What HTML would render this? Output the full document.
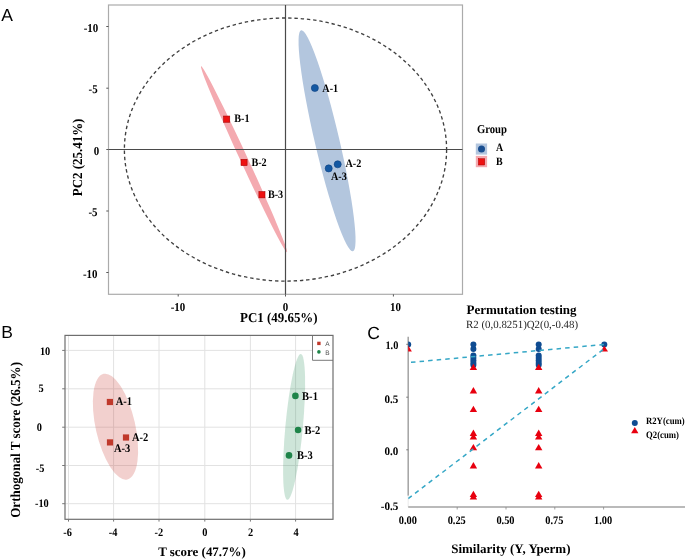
<!DOCTYPE html>
<html><head><meta charset="utf-8"><style>
html,body{margin:0;padding:0;background:#fff;width:685px;height:560px;overflow:hidden}
svg{display:block}
text{text-rendering:geometricPrecision}
svg{will-change:transform}
</style></head><body>
<svg width="685" height="560" viewBox="0 0 685 560">
<rect width="685" height="560" fill="#fff"/>
<text x="1.3" y="20.6" font-family='"Liberation Sans", sans-serif' font-size="17.5" font-weight="normal" text-anchor="start" fill="#000" >A</text>
<ellipse cx="244.04" cy="159.26" rx="3.74" ry="102.44" transform="rotate(-24.79 244.04 159.26)" fill="#f4aab0"/>
<ellipse cx="327.05" cy="140.75" rx="12.27" ry="113.54" transform="rotate(-13.175 327.05 140.75)" fill="#b3c6de"/>
<rect x="108.5" y="5" width="354" height="289.3" fill="none" stroke="#ababab" stroke-width="1.2"/>
<line x1="285.5" y1="5" x2="285.5" y2="294.3" stroke="#4a4a4a" stroke-width="1.2"/>
<line x1="108.5" y1="149.5" x2="462.5" y2="149.5" stroke="#4a4a4a" stroke-width="1.2"/>
<ellipse cx="285.5" cy="149.55" rx="161.1" ry="131.55" fill="none" stroke="#404040" stroke-width="1.35" stroke-dasharray="3.4 2.85"/>
<line x1="106.3" y1="26.5" x2="108.5" y2="26.5" stroke="#555" stroke-width="1"/>
<line x1="106.3" y1="88.2" x2="108.5" y2="88.2" stroke="#555" stroke-width="1"/>
<line x1="106.3" y1="149.5" x2="108.5" y2="149.5" stroke="#555" stroke-width="1"/>
<line x1="106.3" y1="211" x2="108.5" y2="211" stroke="#555" stroke-width="1"/>
<line x1="106.3" y1="272.5" x2="108.5" y2="272.5" stroke="#555" stroke-width="1"/>
<line x1="178.2" y1="294.3" x2="178.2" y2="296.5" stroke="#555" stroke-width="1"/>
<line x1="285.5" y1="294.3" x2="285.5" y2="296.5" stroke="#555" stroke-width="1"/>
<line x1="393.4" y1="294.3" x2="393.4" y2="296.5" stroke="#555" stroke-width="1"/>
<text x="98.2" y="31.9" font-family='"Liberation Serif", serif' font-size="12.0" font-weight="bold" text-anchor="end" fill="#000" textLength="14.56" lengthAdjust="spacingAndGlyphs" >-10</text>
<text x="97.6" y="93.1" font-family='"Liberation Serif", serif' font-size="12.0" font-weight="bold" text-anchor="end" fill="#000" textLength="9.1" lengthAdjust="spacingAndGlyphs" >-5</text>
<text x="99.3" y="155.2" font-family='"Liberation Serif", serif' font-size="12.0" font-weight="bold" text-anchor="end" fill="#000" textLength="5.46" lengthAdjust="spacingAndGlyphs" >0</text>
<text x="97.5" y="215.8" font-family='"Liberation Serif", serif' font-size="12.0" font-weight="bold" text-anchor="end" fill="#000" textLength="9.1" lengthAdjust="spacingAndGlyphs" >-5</text>
<text x="97.5" y="277.9" font-family='"Liberation Serif", serif' font-size="12.0" font-weight="bold" text-anchor="end" fill="#000" textLength="14.56" lengthAdjust="spacingAndGlyphs" >-10</text>
<text x="178" y="311.0" font-family='"Liberation Serif", serif' font-size="12.0" font-weight="bold" text-anchor="middle" fill="#000" textLength="14.56" lengthAdjust="spacingAndGlyphs" >-10</text>
<text x="285.5" y="311.0" font-family='"Liberation Serif", serif' font-size="12.0" font-weight="bold" text-anchor="middle" fill="#000" textLength="5.46" lengthAdjust="spacingAndGlyphs" >0</text>
<text x="395.5" y="311.0" font-family='"Liberation Serif", serif' font-size="12.0" font-weight="bold" text-anchor="middle" fill="#000" textLength="10.92" lengthAdjust="spacingAndGlyphs" >10</text>
<text x="240" y="321.8" font-family='"Liberation Serif", serif' font-size="13.6" font-weight="bold" text-anchor="start" fill="#000" textLength="77.6" lengthAdjust="spacingAndGlyphs" >PC1 (49.65%)</text>
<text transform="translate(82.3 196.2) rotate(-90)" font-family='"Liberation Serif", serif' font-size="13.8" font-weight="bold" textLength="77.6" lengthAdjust="spacingAndGlyphs">PC2 (25.41%)</text>
<rect x="223.65" y="116.05" width="6.1" height="6.2" fill="#ee1111" stroke="#a80000" stroke-width="0.6"/>
<rect x="241.00" y="159.35" width="6.1" height="6.2" fill="#ee1111" stroke="#a80000" stroke-width="0.6"/>
<rect x="258.90" y="191.65" width="6.1" height="6.2" fill="#ee1111" stroke="#a80000" stroke-width="0.6"/>
<circle cx="314.85" cy="88" r="3.55" fill="#1458a2" stroke="#0d3f80" stroke-width="0.6"/>
<circle cx="337.7" cy="164.3" r="3.55" fill="#1458a2" stroke="#0d3f80" stroke-width="0.6"/>
<circle cx="328.7" cy="168.4" r="3.55" fill="#1458a2" stroke="#0d3f80" stroke-width="0.6"/>
<text x="234.3" y="121.6" font-family='"Liberation Serif", serif' font-size="11.4" font-weight="bold" text-anchor="start" fill="#000" textLength="15.31" lengthAdjust="spacingAndGlyphs" >B-1</text>
<text x="251.4" y="165.5" font-family='"Liberation Serif", serif' font-size="11.4" font-weight="bold" text-anchor="start" fill="#000" textLength="15.31" lengthAdjust="spacingAndGlyphs" >B-2</text>
<text x="267.9" y="197.9" font-family='"Liberation Serif", serif' font-size="11.4" font-weight="bold" text-anchor="start" fill="#000" textLength="15.31" lengthAdjust="spacingAndGlyphs" >B-3</text>
<text x="322.3" y="91.9" font-family='"Liberation Serif", serif' font-size="11.4" font-weight="bold" text-anchor="start" fill="#000" textLength="15.87" lengthAdjust="spacingAndGlyphs" >A-1</text>
<text x="345.5" y="167" font-family='"Liberation Serif", serif' font-size="11.4" font-weight="bold" text-anchor="start" fill="#000" textLength="15.87" lengthAdjust="spacingAndGlyphs" >A-2</text>
<text x="331" y="179.5" font-family='"Liberation Serif", serif' font-size="11.4" font-weight="bold" text-anchor="start" fill="#000" textLength="15.87" lengthAdjust="spacingAndGlyphs" >A-3</text>
<text x="476.9" y="132.5" font-family='"Liberation Serif", serif' font-size="12.0" font-weight="bold" text-anchor="start" fill="#000" textLength="30.07" lengthAdjust="spacingAndGlyphs" >Group</text>
<rect x="475.8" y="143.5" width="11.3" height="11.1" fill="#b3c6de"/>
<circle cx="481.5" cy="149" r="3.5" fill="#1a4f91"/>
<rect x="475.8" y="155.9" width="11.3" height="11.3" fill="#f4aab0"/>
<rect x="478.4" y="158.7" width="6.3" height="6.3" fill="#ee1111" stroke="#a80000" stroke-width="0.5"/>
<text x="496" y="151.2" font-family='"Liberation Serif", serif' font-size="11.2" font-weight="bold" text-anchor="start" fill="#000" textLength="7.2" lengthAdjust="spacingAndGlyphs" >A</text>
<text x="496" y="165.2" font-family='"Liberation Serif", serif' font-size="11.2" font-weight="bold" text-anchor="start" fill="#000" textLength="6.65" lengthAdjust="spacingAndGlyphs" >B</text>
<text x="1.3" y="338" font-family='"Liberation Sans", sans-serif' font-size="17.5" font-weight="normal" text-anchor="start" fill="#000" >B</text>
<line x1="68.5" y1="335.4" x2="68.5" y2="519.1" stroke="#e2e2e2" stroke-width="1"/>
<line x1="113.6" y1="335.4" x2="113.6" y2="519.1" stroke="#e2e2e2" stroke-width="1"/>
<line x1="159" y1="335.4" x2="159" y2="519.1" stroke="#e2e2e2" stroke-width="1"/>
<line x1="204.8" y1="335.4" x2="204.8" y2="519.1" stroke="#e2e2e2" stroke-width="1"/>
<line x1="250.4" y1="335.4" x2="250.4" y2="519.1" stroke="#e2e2e2" stroke-width="1"/>
<line x1="295.6" y1="335.4" x2="295.6" y2="519.1" stroke="#e2e2e2" stroke-width="1"/>
<line x1="65" y1="350.4" x2="333" y2="350.4" stroke="#e2e2e2" stroke-width="1"/>
<line x1="65" y1="388.8" x2="333" y2="388.8" stroke="#e2e2e2" stroke-width="1"/>
<line x1="65" y1="427.2" x2="333" y2="427.2" stroke="#e2e2e2" stroke-width="1"/>
<line x1="65" y1="465.5" x2="333" y2="465.5" stroke="#e2e2e2" stroke-width="1"/>
<line x1="65" y1="503.7" x2="333" y2="503.7" stroke="#e2e2e2" stroke-width="1"/>
<ellipse cx="115.48" cy="426.66" rx="19.76" ry="54.13" transform="rotate(-12.62 115.48 426.66)" fill="rgb(200,60,50)" fill-opacity="0.24"/>
<ellipse cx="294.11" cy="426.92" rx="8.75" ry="73.15" transform="rotate(5.29 294.11 426.92)" fill="rgb(30,138,80)" fill-opacity="0.22"/>
<rect x="312.5" y="335.4" width="20.5" height="24.9" fill="#fff"/>
<path d="M312.5 335.4 V360.3 H333" fill="none" stroke="#7a7a7a" stroke-width="1"/>
<rect x="65" y="335.4" width="268" height="183.9" fill="none" stroke="#6e6e6e" stroke-width="1.2"/>
<rect x="317.2" y="341.7" width="3.4" height="3.4" fill="#c0392b"/>
<circle cx="318.9" cy="351.9" r="1.8" fill="#1e8449"/>
<text x="325.3" y="346.1" font-family='"Liberation Sans", sans-serif' font-size="6.5" font-weight="normal" text-anchor="start" fill="#555" >A</text>
<text x="325.3" y="354.8" font-family='"Liberation Sans", sans-serif' font-size="6.5" font-weight="normal" text-anchor="start" fill="#555" >B</text>
<line x1="62.2" y1="350.4" x2="65" y2="350.4" stroke="#777" stroke-width="1"/>
<line x1="62.2" y1="388.8" x2="65" y2="388.8" stroke="#777" stroke-width="1"/>
<line x1="62.2" y1="427.2" x2="65" y2="427.2" stroke="#777" stroke-width="1"/>
<line x1="62.2" y1="465.5" x2="65" y2="465.5" stroke="#777" stroke-width="1"/>
<line x1="62.2" y1="503.7" x2="65" y2="503.7" stroke="#777" stroke-width="1"/>
<line x1="68.5" y1="519.3" x2="68.5" y2="521.6" stroke="#777" stroke-width="1"/>
<line x1="113.6" y1="519.3" x2="113.6" y2="521.6" stroke="#777" stroke-width="1"/>
<line x1="159" y1="519.3" x2="159" y2="521.6" stroke="#777" stroke-width="1"/>
<line x1="204.8" y1="519.3" x2="204.8" y2="521.6" stroke="#777" stroke-width="1"/>
<line x1="250.4" y1="519.3" x2="250.4" y2="521.6" stroke="#777" stroke-width="1"/>
<line x1="295.6" y1="519.3" x2="295.6" y2="521.6" stroke="#777" stroke-width="1"/>
<text x="39.9" y="354.5" font-family='"Liberation Serif", serif' font-size="11.5" font-weight="bold" text-anchor="start" fill="#000" textLength="10.35" lengthAdjust="spacingAndGlyphs" >10</text>
<text x="38.6" y="392" font-family='"Liberation Serif", serif' font-size="11.5" font-weight="bold" text-anchor="start" fill="#000" textLength="5.17" lengthAdjust="spacingAndGlyphs" >5</text>
<text x="36.8" y="431.3" font-family='"Liberation Serif", serif' font-size="11.5" font-weight="bold" text-anchor="start" fill="#000" textLength="5.17" lengthAdjust="spacingAndGlyphs" >0</text>
<text x="35.7" y="472" font-family='"Liberation Serif", serif' font-size="11.5" font-weight="bold" text-anchor="start" fill="#000" textLength="8.62" lengthAdjust="spacingAndGlyphs" >-5</text>
<text x="35" y="507.4" font-family='"Liberation Serif", serif' font-size="11.5" font-weight="bold" text-anchor="start" fill="#000" textLength="13.8" lengthAdjust="spacingAndGlyphs" >-10</text>
<text x="67.5" y="536.4" font-family='"Liberation Serif", serif' font-size="11.5" font-weight="bold" text-anchor="middle" fill="#000" textLength="8.62" lengthAdjust="spacingAndGlyphs" >-6</text>
<text x="113" y="536.4" font-family='"Liberation Serif", serif' font-size="11.5" font-weight="bold" text-anchor="middle" fill="#000" textLength="8.62" lengthAdjust="spacingAndGlyphs" >-4</text>
<text x="158.9" y="536.4" font-family='"Liberation Serif", serif' font-size="11.5" font-weight="bold" text-anchor="middle" fill="#000" textLength="8.62" lengthAdjust="spacingAndGlyphs" >-2</text>
<text x="204.9" y="536.4" font-family='"Liberation Serif", serif' font-size="11.5" font-weight="bold" text-anchor="middle" fill="#000" textLength="5.17" lengthAdjust="spacingAndGlyphs" >0</text>
<text x="250.5" y="536.4" font-family='"Liberation Serif", serif' font-size="11.5" font-weight="bold" text-anchor="middle" fill="#000" textLength="5.17" lengthAdjust="spacingAndGlyphs" >2</text>
<text x="296" y="536.4" font-family='"Liberation Serif", serif' font-size="11.5" font-weight="bold" text-anchor="middle" fill="#000" textLength="5.17" lengthAdjust="spacingAndGlyphs" >4</text>
<text x="158.2" y="556" font-family='"Liberation Serif", serif' font-size="13" font-weight="bold" text-anchor="start" fill="#000" textLength="87.6" lengthAdjust="spacingAndGlyphs" >T score (47.7%)</text>
<text transform="translate(20.2 517.8) rotate(-90)" font-family='"Liberation Serif", serif' font-size="13.8" font-weight="bold" textLength="155.8" lengthAdjust="spacingAndGlyphs">Orthogonal T score (26.5%)</text>
<rect x="106.80000000000001" y="398.9" width="6.2" height="6.2" fill="#c0392b"/>
<rect x="122.9" y="434.4" width="6.2" height="6.2" fill="#c0392b"/>
<rect x="106.9" y="439.29999999999995" width="6.2" height="6.2" fill="#c0392b"/>
<circle cx="295.4" cy="395.9" r="3.3" fill="#1e8449"/>
<circle cx="298.1" cy="430" r="3.3" fill="#1e8449"/>
<circle cx="289" cy="455.4" r="3.3" fill="#1e8449"/>
<text x="115.7" y="405.4" font-family='"Liberation Serif", serif' font-size="11.7" font-weight="bold" text-anchor="start" fill="#000" textLength="16.38" lengthAdjust="spacingAndGlyphs" >A-1</text>
<text x="131.9" y="440.8" font-family='"Liberation Serif", serif' font-size="11.7" font-weight="bold" text-anchor="start" fill="#000" textLength="16.38" lengthAdjust="spacingAndGlyphs" >A-2</text>
<text x="113.9" y="451.5" font-family='"Liberation Serif", serif' font-size="11.7" font-weight="bold" text-anchor="start" fill="#000" textLength="16.38" lengthAdjust="spacingAndGlyphs" >A-3</text>
<text x="302.1" y="399.6" font-family='"Liberation Serif", serif' font-size="11.7" font-weight="bold" text-anchor="start" fill="#000" textLength="15.8" lengthAdjust="spacingAndGlyphs" >B-1</text>
<text x="304.5" y="434.3" font-family='"Liberation Serif", serif' font-size="11.7" font-weight="bold" text-anchor="start" fill="#000" textLength="15.8" lengthAdjust="spacingAndGlyphs" >B-2</text>
<text x="296.9" y="459.4" font-family='"Liberation Serif", serif' font-size="11.7" font-weight="bold" text-anchor="start" fill="#000" textLength="15.8" lengthAdjust="spacingAndGlyphs" >B-3</text>
<text x="367.2" y="338.5" font-family='"Liberation Sans", sans-serif' font-size="17.5" font-weight="normal" text-anchor="start" fill="#000" >C</text>
<text x="466.5" y="313.9" font-family='"Liberation Serif", serif' font-size="13" font-weight="bold" text-anchor="start" fill="#000" textLength="110" lengthAdjust="spacingAndGlyphs" >Permutation testing</text>
<text x="466.1" y="327.6" font-family='"Liberation Serif", serif' font-size="11" font-weight="normal" text-anchor="start" fill="#262626" textLength="112" lengthAdjust="spacingAndGlyphs" >R2 (0,0.8251)Q2(0,-0.48)</text>
<line x1="408.2" y1="336.7" x2="408.2" y2="495.7" stroke="#a3a3a3" stroke-width="1.5"/>
<line x1="408.2" y1="495.7" x2="408.2" y2="507" stroke="#eee" stroke-width="1.2"/>
<line x1="408.2" y1="507" x2="685" y2="507" stroke="#a3a3a3" stroke-width="1.4"/>
<line x1="406.2" y1="344.3" x2="408.2" y2="344.3" stroke="#666" stroke-width="0.8"/>
<line x1="406.2" y1="397.2" x2="408.2" y2="397.2" stroke="#666" stroke-width="0.8"/>
<line x1="406.2" y1="449.8" x2="408.2" y2="449.8" stroke="#666" stroke-width="0.8"/>
<line x1="457.2" y1="507" x2="457.2" y2="509.5" stroke="#888" stroke-width="0.8"/>
<line x1="506.0" y1="507" x2="506.0" y2="509.5" stroke="#888" stroke-width="0.8"/>
<line x1="554.8" y1="507" x2="554.8" y2="509.5" stroke="#888" stroke-width="0.8"/>
<line x1="603.6" y1="507" x2="603.6" y2="509.5" stroke="#888" stroke-width="0.8"/>
<text x="398.3" y="349.2" font-family='"Liberation Serif", serif' font-size="11.5" font-weight="bold" text-anchor="end" fill="#000" textLength="12.9" lengthAdjust="spacingAndGlyphs" >1.0</text>
<text x="398.3" y="402.9" font-family='"Liberation Serif", serif' font-size="11.5" font-weight="bold" text-anchor="end" fill="#000" textLength="13.8" lengthAdjust="spacingAndGlyphs" >0.5</text>
<text x="398.3" y="455" font-family='"Liberation Serif", serif' font-size="11.5" font-weight="bold" text-anchor="end" fill="#000" textLength="13.8" lengthAdjust="spacingAndGlyphs" >0.0</text>
<text x="398.3" y="510.4" font-family='"Liberation Serif", serif' font-size="11.5" font-weight="bold" text-anchor="end" fill="#000" textLength="17.6" lengthAdjust="spacingAndGlyphs" >-0.5</text>
<text x="407.9" y="523.9" font-family='"Liberation Serif", serif' font-size="11.5" font-weight="bold" text-anchor="middle" fill="#000" textLength="18.11" lengthAdjust="spacingAndGlyphs" >0.00</text>
<text x="456.7" y="523.9" font-family='"Liberation Serif", serif' font-size="11.5" font-weight="bold" text-anchor="middle" fill="#000" textLength="18.11" lengthAdjust="spacingAndGlyphs" >0.25</text>
<text x="505.5" y="523.9" font-family='"Liberation Serif", serif' font-size="11.5" font-weight="bold" text-anchor="middle" fill="#000" textLength="18.11" lengthAdjust="spacingAndGlyphs" >0.50</text>
<text x="554.3" y="523.9" font-family='"Liberation Serif", serif' font-size="11.5" font-weight="bold" text-anchor="middle" fill="#000" textLength="18.11" lengthAdjust="spacingAndGlyphs" >0.75</text>
<text x="603.1" y="523.9" font-family='"Liberation Serif", serif' font-size="11.5" font-weight="bold" text-anchor="middle" fill="#000" textLength="18.11" lengthAdjust="spacingAndGlyphs" >1.00</text>
<text x="451.2" y="552.5" font-family='"Liberation Serif", serif' font-size="13" font-weight="bold" text-anchor="start" fill="#000" textLength="119.3" lengthAdjust="spacingAndGlyphs" >Similarity (Y, Yperm)</text>
<clipPath id="cc"><rect x="408.2" y="330" width="280" height="180"/></clipPath>
<g clip-path="url(#cc)"><circle cx="408.2" cy="344.4" r="3.0" fill="#0f4c92"/><polygon points="408.2,345.5 404.5,351.6 411.9,351.6" fill="#e8000f"/><circle cx="473.4" cy="344.4" r="3.0" fill="#0f4c92"/><circle cx="473.4" cy="349.0" r="3.0" fill="#0f4c92"/><circle cx="473.4" cy="355.5" r="3.0" fill="#0f4c92"/><circle cx="473.4" cy="358.0" r="3.0" fill="#0f4c92"/><circle cx="473.4" cy="360.5" r="3.0" fill="#0f4c92"/><circle cx="473.4" cy="363.0" r="3.0" fill="#0f4c92"/><circle cx="473.4" cy="365.0" r="3.0" fill="#0f4c92"/><polygon points="473.4,363.8 469.7,370.1 477.1,370.1" fill="#e8000f"/><polygon points="473.4,387.1 469.7,393.4 477.1,393.4" fill="#e8000f"/><polygon points="473.4,405.7 469.7,412.0 477.1,412.0" fill="#e8000f"/><polygon points="473.4,429.6 469.7,435.9 477.1,435.9" fill="#e8000f"/><polygon points="473.4,433.3 469.7,439.6 477.1,439.6" fill="#e8000f"/><polygon points="473.4,444.0 469.7,450.3 477.1,450.3" fill="#e8000f"/><polygon points="473.4,462.1 469.7,468.4 477.1,468.4" fill="#e8000f"/><polygon points="473.4,490.7 469.7,497.0 477.1,497.0" fill="#e8000f"/><polygon points="473.4,493.3 469.7,499.6 477.1,499.6" fill="#e8000f"/><circle cx="538.7" cy="344.4" r="3.0" fill="#0f4c92"/><circle cx="538.7" cy="349.0" r="3.0" fill="#0f4c92"/><circle cx="538.7" cy="355.5" r="3.0" fill="#0f4c92"/><circle cx="538.7" cy="358.0" r="3.0" fill="#0f4c92"/><circle cx="538.7" cy="360.5" r="3.0" fill="#0f4c92"/><circle cx="538.7" cy="363.0" r="3.0" fill="#0f4c92"/><circle cx="538.7" cy="365.0" r="3.0" fill="#0f4c92"/><polygon points="538.7,363.8 535.0,370.1 542.4,370.1" fill="#e8000f"/><polygon points="538.7,387.1 535.0,393.4 542.4,393.4" fill="#e8000f"/><polygon points="538.7,405.7 535.0,412.0 542.4,412.0" fill="#e8000f"/><polygon points="538.7,429.6 535.0,435.9 542.4,435.9" fill="#e8000f"/><polygon points="538.7,433.3 535.0,439.6 542.4,439.6" fill="#e8000f"/><polygon points="538.7,444.0 535.0,450.3 542.4,450.3" fill="#e8000f"/><polygon points="538.7,462.1 535.0,468.4 542.4,468.4" fill="#e8000f"/><polygon points="538.7,490.7 535.0,497.0 542.4,497.0" fill="#e8000f"/><polygon points="538.7,493.3 535.0,499.6 542.4,499.6" fill="#e8000f"/><circle cx="604.3" cy="344.6" r="3.0" fill="#0f4c92"/><polygon points="604.3,345.7 600.6,351.6 608.0,351.6" fill="#e8000f"/><line x1="408.2" y1="362.6" x2="604.3" y2="344.5" stroke="#35a7c6" stroke-width="1.5" stroke-dasharray="4.5 4.1" stroke-dashoffset="-2.8"/><line x1="408.2" y1="498.6" x2="604.3" y2="348.6" stroke="#35a7c6" stroke-width="1.5" stroke-dasharray="4.5 4.1"/></g>
<circle cx="634.8" cy="423.1" r="3" fill="#0f4c92"/>
<polygon points="634.8,427.1 631.1,433.2 638.4,433.2" fill="#e8000f"/>
<text x="646" y="423.8" font-family='"Liberation Serif", serif' font-size="9.7" font-weight="bold" text-anchor="start" fill="#000" textLength="38.6" lengthAdjust="spacingAndGlyphs" >R2Y(cum)</text>
<text x="646" y="438" font-family='"Liberation Serif", serif' font-size="9.7" font-weight="bold" text-anchor="start" fill="#000" textLength="33" lengthAdjust="spacingAndGlyphs" >Q2(cum)</text>
</svg>
</body></html>
